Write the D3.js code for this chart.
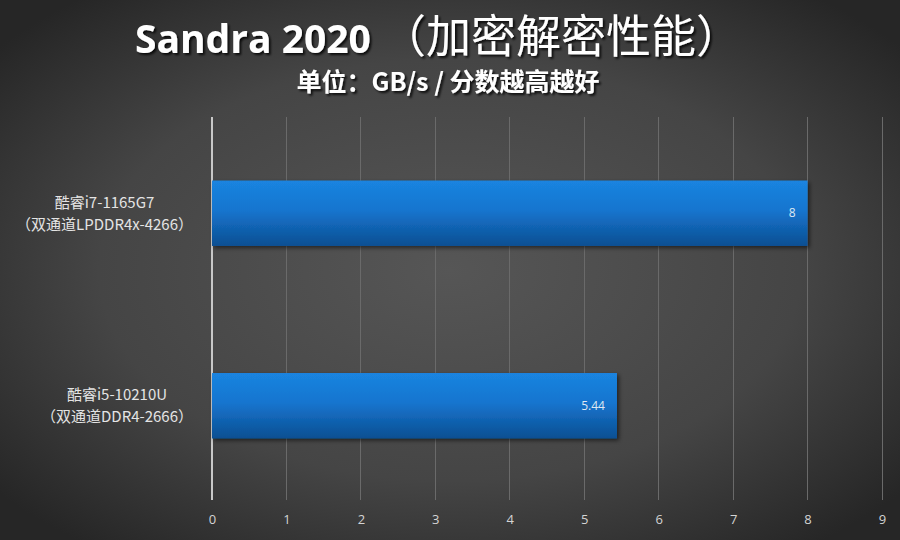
<!DOCTYPE html>
<html>
<head>
<meta charset="utf-8">
<script src="https://cdn.jsdelivr.net/npm/d3@7"></script>
<style>
  body { margin: 0; background: #333; }
  text { font-family: "Open Sans", "Noto Sans CJK SC", sans-serif; }
  .cjk { font-family: "Noto Sans CJK SC", sans-serif; }
</style>
</head>
<body>
<div id="wrapper"></div>
<script>
// data
const categories = [
  ["酷睿i7-1165G7", "（双通道LPDDR4x-4266）"],
  ["酷睿i5-10210U", "（双通道DDR4-2666）"],
];
const values = [8, 5.44];
const valueLabels = ["8", "5.44"];
const xTicks = [0, 1, 2, 3, 4, 5, 6, 7, 8, 9];
const titleLatin = "Sandra 2020 ";
const titleCjk = "（加密解密性能）";
const subtitle = "单位：GB/s / 分数越高越好";

// dimensions
const width = 900;
const height = 540;
const margin = { top: 117, right: 18, bottom: 38, left: 212 };
const boundedWidth = width - margin.left - margin.right;
const boundedHeight = height - margin.top - margin.bottom;

const svg = d3.select("#wrapper")
  .append("svg")
  .attr("width", width)
  .attr("height", height);

const defs = svg.append("defs");

const bg = defs.append("radialGradient")
  .attr("id", "bg-gradient")
  .attr("cx", "50%").attr("cy", "50%").attr("r", "65%");
bg.append("stop").attr("offset", "0%").attr("stop-color", "#565656");
bg.append("stop").attr("offset", "60%").attr("stop-color", "#454545");
bg.append("stop").attr("offset", "100%").attr("stop-color", "#262626");

const barGrad = defs.append("linearGradient")
  .attr("id", "bar-gradient")
  .attr("x1", 0).attr("y1", 0).attr("x2", 0).attr("y2", 1);
barGrad.append("stop").attr("offset", "0%").attr("stop-color", "#1a84e0");
barGrad.append("stop").attr("offset", "45%").attr("stop-color", "#1675cf");
barGrad.append("stop").attr("offset", "100%").attr("stop-color", "#0c4f92");

const shadow = defs.append("filter").attr("id", "shadow")
  .attr("x", "-10%").attr("y", "-20%").attr("width", "130%").attr("height", "150%");
shadow.append("feDropShadow")
  .attr("dx", 2).attr("dy", 2).attr("stdDeviation", 2)
  .attr("flood-color", "#000").attr("flood-opacity", 0.55);

const textShadow = defs.append("filter").attr("id", "text-shadow");
textShadow.append("feDropShadow")
  .attr("dx", 2).attr("dy", 2).attr("stdDeviation", 1.2)
  .attr("flood-color", "#000").attr("flood-opacity", 0.8);

svg.append("rect")
  .attr("width", width).attr("height", height)
  .attr("fill", "url(#bg-gradient)");

// scales
const xScale = d3.scaleLinear()
  .domain([0, 9])
  .range([0, boundedWidth]);

const yScale = d3.scaleBand()
  .domain(d3.range(categories.length))
  .range([0, boundedHeight])
  .paddingInner(0.66)
  .paddingOuter(0.33);

const bounds = svg.append("g")
  .attr("transform", `translate(${margin.left}, ${margin.top})`);

// gridlines
bounds.append("g")
  .selectAll("line")
  .data(xTicks)
  .join("line")
  .attr("x1", d => xScale(d))
  .attr("x2", d => xScale(d))
  .attr("y1", 0)
  .attr("y2", boundedHeight - 2)
  .attr("stroke", d => d === 0 ? "#c8c8c8" : "#6a6a6a")
  .attr("stroke-width", d => d === 0 ? 1.2 : 1)
  .attr("shape-rendering", "crispEdges");

// x axis labels
const xAxis = d3.axisBottom(xScale)
  .tickValues(xTicks)
  .tickSize(0)
  .tickPadding(0);

const xAxisGroup = bounds.append("g")
  .attr("transform", `translate(0, ${boundedHeight + 13})`)
  .call(xAxis);
xAxisGroup.select(".domain").remove();
xAxisGroup.selectAll("text")
  .attr("fill", "#d4d4d4")
  .attr("font-size", 13);

// bars
bounds.append("g")
  .selectAll("rect")
  .data(values)
  .join("rect")
  .attr("x", 0)
  .attr("y", (d, i) => yScale(i))
  .attr("width", d => xScale(d))
  .attr("height", yScale.bandwidth())
  .attr("fill", "url(#bar-gradient)")
  .attr("filter", "url(#shadow)");

// value labels
bounds.append("g")
  .selectAll("text")
  .data(values)
  .join("text")
  .attr("x", d => xScale(d) - 12)
  .attr("y", (d, i) => yScale(i) + yScale.bandwidth() / 2)
  .attr("dy", "0.35em")
  .attr("text-anchor", "end")
  .attr("fill", "#dfe8f2")
  .attr("font-size", 12)
  .text((d, i) => valueLabels[i]);

// category labels: each block ends at the same right edge, lines centred in block
const labelRight = 193;
const labelGroup = svg.append("g");
categories.forEach((lines, i) => {
  const cy = margin.top + yScale(i) + yScale.bandwidth() / 2;
  const block = labelGroup.append("g");
  const texts = lines.map((line, j) => block.append("text")
    .attr("class", "cjk")
    .attr("y", cy + (j - 0.5) * 22)
    .attr("dy", "0.35em")
    .attr("text-anchor", "middle")
    .attr("fill", "#e4e4e4")
    .attr("font-size", 15)
    .text(line));
  const w = d3.max(texts, t => t.node().getComputedTextLength());
  texts.forEach(t => t.attr("x", labelRight - w / 2));
});

// titles
const titleText = svg.append("text")
  .attr("x", 438)
  .attr("y", 53)
  .attr("text-anchor", "middle")
  .attr("fill", "#ffffff")
  .attr("filter", "url(#text-shadow)");
titleText.append("tspan")
  .attr("font-family", "'Open Sans', sans-serif")
  .attr("font-size", 39)
  .attr("font-weight", "bold")
  .text(titleLatin);
titleText.append("tspan")
  .attr("font-family", "'Noto Sans CJK SC', sans-serif")
  .attr("font-size", 45)
  .attr("font-weight", "normal")
  .text(titleCjk);

svg.append("text")
  .attr("class", "cjk")
  .attr("x", 448)
  .attr("y", 91)
  .attr("text-anchor", "middle")
  .attr("fill", "#ffffff")
  .attr("font-size", 25)
  .attr("font-weight", "bold")
  .attr("filter", "url(#text-shadow)")
  .text(subtitle);
</script>
</body>
</html>
